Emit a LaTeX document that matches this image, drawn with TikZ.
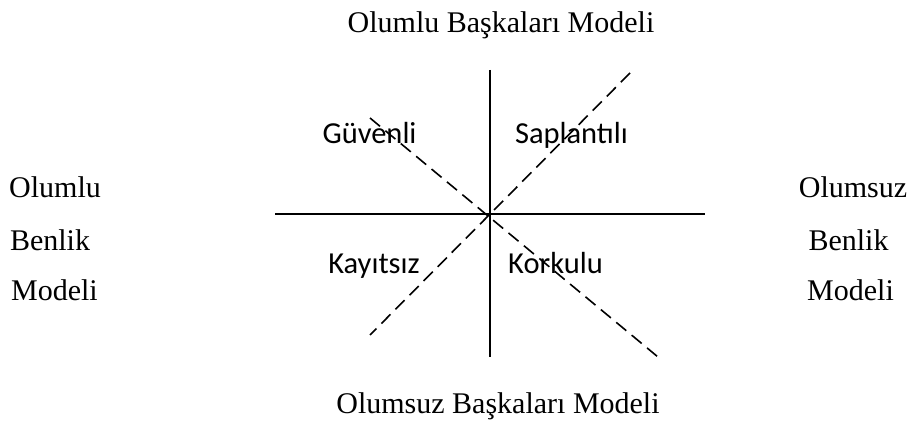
\documentclass[tikz,border=0pt]{standalone}
\usepackage{fontspec}
\setmainfont{Liberation Serif}
\newfontfamily\quadfont{Carlito}

\tikzset{
  axisline/.style={line width=2pt},
  diagline/.style={line width=1.6pt, dash pattern=on 13pt off 7pt},
  modeltext/.style={anchor=base, inner sep=0pt, font=\fontsize{30}{30}\selectfont},
  quadtext/.style={anchor=base, inner sep=0pt, font=\quadfont\fontsize{30.5}{30}\selectfont},
}

\begin{document}
\begin{tikzpicture}[x=1pt,y=-1pt]
\useasboundingbox (0,0) rectangle (910,422);

% axes
\coordinate (top) at (490,70);
\coordinate (bottom) at (490,357);
\coordinate (left) at (275,214);
\coordinate (right) at (705,214);
\draw[axisline] (top) -- (bottom);
\draw[axisline] (left) -- (right);

% dashed diagonals
\coordinate (ne) at (630,73);
\coordinate (sw) at (370,335);
\coordinate (nw) at (370,118);
\coordinate (se) at (658,357);
\draw[diagline] (ne) -- (sw);
\draw[diagline] (nw) -- (se);

% quadrant labels
\node[quadtext] (guvenli) at (369.5,144) {Güvenli};
\node[quadtext] (saplantili) at (571.5,144) {Saplantılı};
\node[quadtext] (kayitsiz) at (374,273) {Kayıtsız};
\node[quadtext] (korkulu) at (555.5,273) {Korkulu};

% model labels
\node[modeltext] (toplabel) at (501,33) {Olumlu Başkaları Modeli};
\node[modeltext] (bottomlabel) at (498,413) {Olumsuz Başkaları Modeli};

\node[modeltext] (left1) at (55,198) {Olumlu};
\node[modeltext] (left2) at (50,250) {Benlik};
\node[modeltext] (left3) at (54.5,300) {Modeli};

\node[modeltext] (right1) at (853,198) {Olumsuz};
\node[modeltext] (right2) at (848.5,250) {Benlik};
\node[modeltext] (right3) at (850.5,300) {Modeli};
\end{tikzpicture}
\end{document}
